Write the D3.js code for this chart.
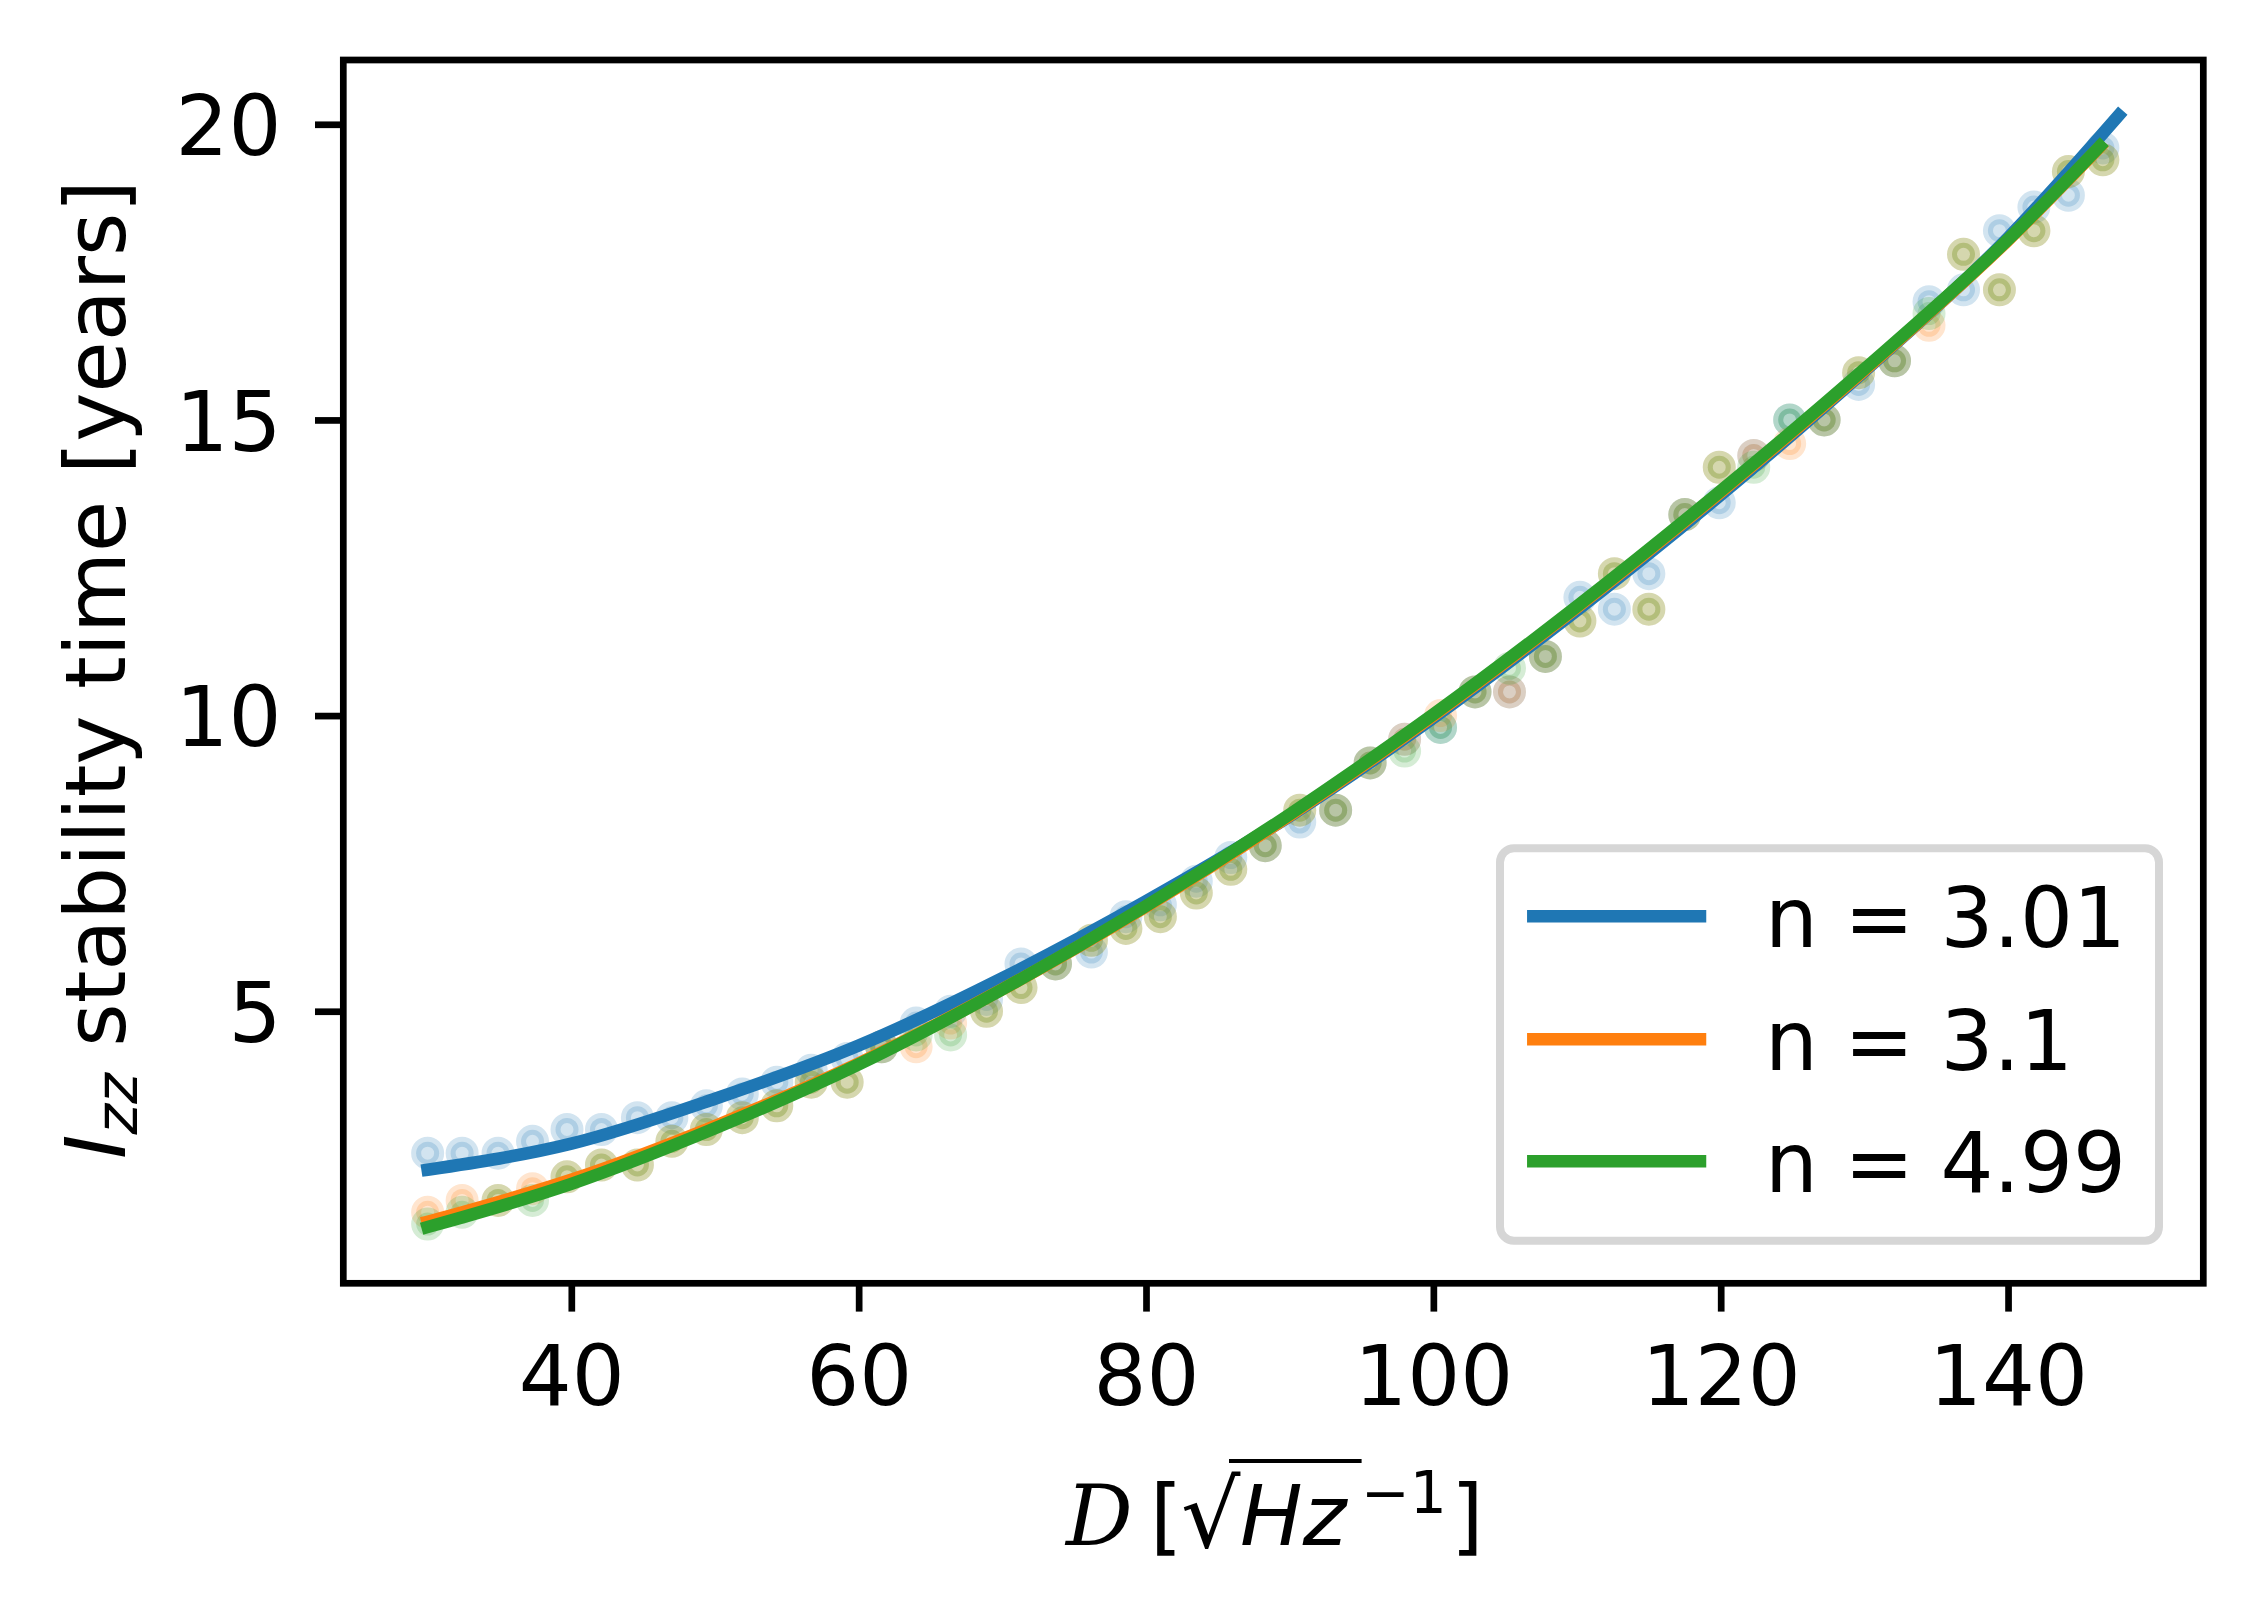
<!DOCTYPE html>
<html><head><meta charset="utf-8">
<script src="https://cdn.jsdelivr.net/npm/d3@7"></script>
<style>
body{margin:0;background:#fff;}
svg{display:block;background:#fff;}
text{font-family:"DejaVu Sans";fill:#000;}
</style>
</head><body>
<svg id="chart" width="2262" height="1622"></svg>
<script>
// ---------------- data ----------------
const xValues = [30.0, 32.4, 34.9, 37.3, 39.7, 42.1, 44.6, 47.0, 49.4, 51.9, 54.3, 56.7, 59.2, 61.6, 64.0, 66.4,
  68.9, 71.3, 73.7, 76.2, 78.6, 81.0, 83.5, 85.9, 88.3, 90.7, 93.2, 95.6, 98.0, 100.5, 102.9, 105.3, 107.8,
  110.2, 112.6, 115.0, 117.5, 119.9, 122.3, 124.8, 127.2, 129.6, 132.1, 134.5, 136.9, 139.4, 141.8, 144.2, 146.6];

const seriesBlue = [2.6, 2.6, 2.6, 2.8, 3.0, 3.0, 3.2, 3.2, 3.4, 3.6, 3.8, 4.0, 4.2, 4.4, 4.8, 5.0, 5.2, 5.8,
  5.8, 6.0, 6.6, 6.8, 7.2, 7.6, 7.8, 8.2, 8.4, 9.2, 9.6, 9.8, 10.4, 10.4, 11.0, 12.0, 11.8, 12.4, 13.4, 13.6,
  14.4, 15.0, 15.0, 15.6, 16.0, 17.0, 17.2, 18.2, 18.6, 18.8, 19.6];
const seriesOrange = [1.6, 1.8, 1.8, 2.0, 2.2, 2.4, 2.4, 2.8, 3.0, 3.2, 3.4, 3.8, 3.8, 4.4, 4.4, 4.8, 5.0, 5.4,
  5.8, 6.2, 6.4, 6.6, 7.0, 7.4, 7.8, 8.4, 8.4, 9.2, 9.6, 10.0, 10.4, 10.4, 11.0, 11.6, 12.4, 11.8, 13.4, 14.2,
  14.4, 14.6, 15.0, 15.8, 16.0, 16.6, 17.8, 17.2, 18.2, 19.2, 19.4];
const seriesGreen = [1.4, 1.6, 1.8, 1.8, 2.2, 2.4, 2.4, 2.8, 3.0, 3.2, 3.4, 3.8, 3.8, 4.4, 4.6, 4.6, 5.0, 5.4,
  5.8, 6.2, 6.4, 6.6, 7.0, 7.4, 7.8, 8.4, 8.4, 9.2, 9.4, 9.8, 10.4, 10.8, 11.0, 11.6, 12.4, 11.8, 13.4, 14.2,
  14.2, 15.0, 15.0, 15.8, 16.0, 16.8, 17.8, 17.2, 18.2, 19.2, 19.4];

// fitted curves
const fitXBlue = [30, 40, 50, 60, 70, 80, 90, 100, 110, 120, 130, 140, 147.7];
const fitBlue  = [2.32, 2.76, 3.52, 4.42, 5.56, 6.86, 8.30, 9.96, 11.78, 13.73, 15.82, 18.08, 20.15];
const fitXOrange = [30, 40, 50, 60, 70, 80, 90, 100, 110, 120, 130, 140, 146.4];
const fitOrange  = [1.44, 2.15, 3.06, 4.12, 5.37, 6.77, 8.31, 10.00, 11.83, 13.78, 15.84, 18.04, 19.62];
const fitXGreen = [30, 40, 50, 60, 70, 80, 90, 100, 110, 120, 130, 140, 146.4];
const fitGreen  = [1.35, 2.08, 3.02, 4.10, 5.37, 6.78, 8.33, 10.02, 11.85, 13.80, 15.86, 18.05, 19.63];

const legendLabels = ["n = 3.01", "n = 3.1", "n = 4.99"];
const xTicks = [40, 60, 80, 100, 120, 140];
const yTicks = [5, 10, 15, 20];
const xLimits = [24.13, 153.59];
const yLimits = [0.399, 21.087];

// ---------------- layout / style ----------------
const colors = ["#1f77b4", "#ff7f0e", "#2ca02c"];
const FS = 83.3;
const plot = {left: 343.3, right: 2203.3, top: 60, bottom: 1283.3};
const svg = d3.select("#chart");

const x = d3.scaleLinear().domain(xLimits).range([plot.left, plot.right]);
const y = d3.scaleLinear().domain(yLimits).range([plot.bottom, plot.top]);

// scatter (drawn below the lines, like matplotlib's zorder)
const scatterSets = [seriesBlue, seriesOrange, seriesGreen];
scatterSets.forEach((vals, k) => {
  svg.append("g").selectAll("circle")
    .data(vals.map((v, i) => [xValues[i], v]))
    .join("circle")
    .attr("cx", d => x(d[0]))
    .attr("cy", d => y(d[1]))
    .attr("r", 11.5)
    .attr("fill", colors[k]).attr("fill-opacity", 0.2)
    .attr("stroke", colors[k]).attr("stroke-opacity", 0.2)
    .attr("stroke-width", 10);
});

// fitted lines
const fits = [[fitXBlue, fitBlue], [fitXOrange, fitOrange], [fitXGreen, fitGreen]];
const line = d3.line().x(d => x(d[0])).y(d => y(d[1])).curve(d3.curveMonotoneX);
fits.forEach(([fx, fy], k) => {
  svg.append("path")
    .datum(fx.map((v, i) => [v, fy[i]]))
    .attr("d", line)
    .attr("fill", "none")
    .attr("stroke", colors[k])
    .attr("stroke-width", 12.5)
    .attr("stroke-linecap", "square");
});

// axes
const tickLen = 28.3;
const gx = svg.append("g").attr("transform", `translate(0,${plot.bottom})`)
  .call(d3.axisBottom(x).tickValues(xTicks).tickSize(tickLen).tickFormat(d3.format("d")));
gx.select(".domain").remove();
gx.selectAll(".tick line").attr("stroke", "#000").attr("stroke-width", 6.7);
gx.selectAll(".tick text").attr("y", 121.7).attr("dy", null)
  .attr("font-size", FS).attr("font-family", "DejaVu Sans").attr("fill", "#000");

const gy = svg.append("g").attr("transform", `translate(${plot.left},0)`)
  .call(d3.axisLeft(y).tickValues(yTicks).tickSize(tickLen).tickFormat(d3.format("d")));
gy.select(".domain").remove();
gy.selectAll(".tick line").attr("stroke", "#000").attr("stroke-width", 6.7);
gy.selectAll(".tick text").attr("x", -61.8).attr("dy", "0.365em")
  .attr("font-size", FS).attr("font-family", "DejaVu Sans").attr("fill", "#000");

// frame
svg.append("rect")
  .attr("x", plot.left).attr("y", plot.top)
  .attr("width", plot.right - plot.left).attr("height", plot.bottom - plot.top)
  .attr("fill", "none").attr("stroke", "#000").attr("stroke-width", 6.7);

// y label
const yl = svg.append("text")
  .attr("transform", "translate(125,669.5) rotate(-90)")
  .attr("text-anchor", "middle").attr("font-size", FS);
yl.append("tspan").attr("font-style", "italic").text("I");
yl.append("tspan").attr("font-style", "italic").attr("font-size", FS * 0.7).attr("dy", 11.7).text("zz");
yl.append("tspan").attr("dy", -11.7).text(" stability time [years]");

// x label
const xlBase = 1545;
const xl = svg.append("text").attr("font-size", FS);
xl.append("tspan").attr("x", 1066).attr("y", xlBase)
  .attr("font-family", "DejaVu Serif").attr("font-style", "italic").text("D");
xl.append("tspan").attr("x", 1150).attr("y", xlBase).text("[");
xl.append("tspan").attr("x", 1181).attr("y", xlBase + 2).attr("font-size", FS * 1.12).text("√");
xl.append("tspan").attr("x", 1240).attr("y", xlBase).attr("font-style", "italic").text("Hz");
xl.append("tspan").attr("x", 1361).attr("y", xlBase - 31.7).attr("font-size", FS * 0.7).text("−1");
xl.append("tspan").attr("x", 1451).attr("y", xlBase).text("]");
svg.append("line")
  .attr("x1", 1229).attr("x2", 1361.6).attr("y1", 1461).attr("y2", 1461)
  .attr("stroke", "#000").attr("stroke-width", 4.2);

// legend
const lg = svg.append("g");
lg.append("rect")
  .attr("x", 1500).attr("y", 848.3).attr("width", 659).attr("height", 392.4)
  .attr("rx", 14).attr("ry", 14)
  .attr("fill", "#fff").attr("fill-opacity", 0.8)
  .attr("stroke", "#d6d6d6").attr("stroke-width", 8);
const rowY = [916.3, 1039.3, 1161.3];
legendLabels.forEach((lab, k) => {
  lg.append("line")
    .attr("x1", 1533.3).attr("x2", 1700).attr("y1", rowY[k]).attr("y2", rowY[k])
    .attr("stroke", colors[k]).attr("stroke-width", 12.5).attr("stroke-linecap", "square");
  lg.append("text").attr("x", 1765).attr("y", rowY[k] + 30.4)
    .attr("font-size", FS).text(lab);
});
</script>
</body></html>
